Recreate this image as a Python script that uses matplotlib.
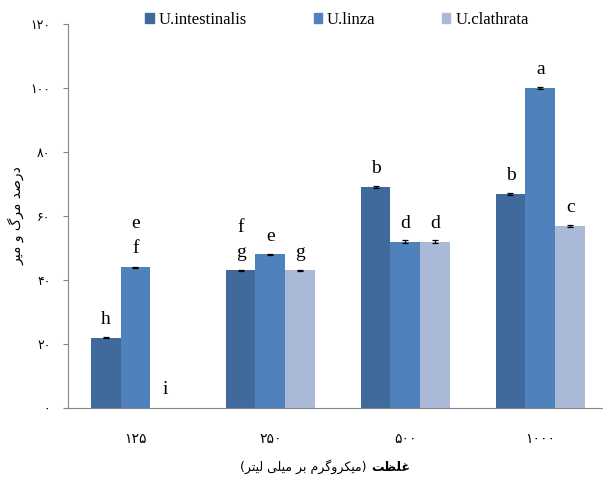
import numpy as np
import matplotlib
matplotlib.use('Agg')
import matplotlib.pyplot as plt
from matplotlib.patches import Patch

# data
groups = ['125', '250', '500', '1000']
series = ['U.intestinalis', 'U.linza', 'U.clathrata']
intestinalis = [22, 43, 69, 67]
linza = [44, 48, 52, 100]
clathrata = [0, 43, 52, 57]
err_intestinalis = [0.2, 0.2, 0.4, 0.3]
err_linza = [0.2, 0.1, 0.4, 0.4]
err_clathrata = [0, 0.2, 0.4, 0.3]
letters_intestinalis = ['h', 'f\ng', 'b', 'b']
letters_linza = ['e\nf', 'e', 'd', 'a']
letters_clathrata = ['i', 'g', 'd', 'c']
yticks = [0, 20, 40, 60, 80, 100, 120]

colors = ['#40699C', '#4F81BD', '#AAB9D8']
serif = 'Liberation Serif'
fa_digits = str.maketrans('0123456789', '۰۱۲۳۴۵۶۷۸۹')

# tiny persian shaper (matplotlib does no arabic shaping / bidi)
# forms: isolated, final, initial, medial
forms = {
    'د': ('\uFEA9', '\uFEAA', None, None),
    'ر': ('\uFEAD', '\uFEAE', None, None),
    'و': ('\uFEED', '\uFEEE', None, None),
    'ص': ('\uFEB9', '\uFEBA', '\uFEBB', '\uFEBC'),
    'م': ('\uFEE1', '\uFEE2', '\uFEE3', '\uFEE4'),
    'گ': ('\uFB92', '\uFB93', '\uFB94', '\uFB95'),
    'ی': ('\uFBFC', '\uFBFD', '\uFBFE', '\uFBFF'),
    'غ': ('\uFECD', '\uFECE', '\uFECF', '\uFED0'),
    'ل': ('\uFEDD', '\uFEDE', '\uFEDF', '\uFEE0'),
    'ظ': ('\uFEC5', '\uFEC6', '\uFEC7', '\uFEC8'),
    'ت': ('\uFE95', '\uFE96', '\uFE97', '\uFE98'),
    'ک': ('\uFB8E', '\uFB8F', '\uFB90', '\uFB91'),
    'ب': ('\uFE8F', '\uFE90', '\uFE91', '\uFE92'),
}


def shape(text):
    out = []
    for i, ch in enumerate(text):
        if ch not in forms:
            out.append(ch)
            continue
        prev = text[i - 1] if i > 0 else ''
        nxt = text[i + 1] if i + 1 < len(text) else ''
        jp = prev in forms and forms[prev][2] is not None
        jn = forms[ch][2] is not None and nxt in forms
        idx = 3 if (jp and jn) else 1 if jp else 2 if jn else 0
        out.append(forms[ch][idx])
    # visual order (right-to-left), mirror brackets
    return ''.join(out)[::-1].translate(str.maketrans('()', ')('))


fig = plt.figure(figsize=(6.03, 4.8), dpi=100)
ax = fig.add_axes([68 / 603, 72 / 480, 535 / 603, 384 / 480])

x = np.arange(len(groups))
w = 0.2222
vals = [intestinalis, linza, clathrata]
errs = [err_intestinalis, err_linza, err_clathrata]
lets = [letters_intestinalis, letters_linza, letters_clathrata]
for k in range(3):
    xs = x + (k - 1) * w
    e = [v if v > 0 else np.nan for v in errs[k]]
    ax.bar(xs, vals[k], w, color=colors[k], linewidth=0,
           yerr=e, error_kw=dict(ecolor='black', elinewidth=0.9,
                                 capsize=2.5, capthick=0.9))
    for xi, v, lab in zip(xs, vals[k], lets[k]):
        for j, line in enumerate(lab.split('\n')[::-1]):
            ax.annotate(line, (xi, v), xytext=(0, 10 + j * 18),
                        textcoords='offset points', ha='center',
                        va='baseline', fontsize=14, family=serif)

ax.set_xlim(-0.5, 3.463)
ax.set_ylim(0, 120)
ax.set_yticks(yticks)
ax.set_yticklabels([str(t).translate(fa_digits) for t in yticks],
                   fontsize=9, family='DejaVu Sans')
ax.set_xticks(x)
ax.set_xticklabels([g.translate(fa_digits) for g in groups],
                   fontsize=10, family='DejaVu Sans')
ax.tick_params(axis='x', length=0, pad=17)
ax.tick_params(axis='y', length=3.6, width=0.8, color='#868686', pad=9)
for s in ['top', 'right']:
    ax.spines[s].set_visible(False)
for s in ['left', 'bottom']:
    ax.spines[s].set_color('#868686')
    ax.spines[s].set_linewidth(0.8)

handles = [Patch(color=c) for c in colors]
fig.legend(handles, series, loc='center', bbox_to_anchor=(337 / 603, 0.958),
           ncol=3, frameon=False, prop=dict(family=serif, size=12),
           handlelength=0.5, handleheight=0.5, handletextpad=0.3,
           columnspacing=4.0)

# axis titles
fig.text(16 / 603, 0.55, shape('درصد مرگ و میر'), rotation=90,
         ha='center', va='center', fontsize=10, family='DejaVu Sans')
bold = fig.text(410 / 603, 0.027, shape('غلظت'), ha='right', va='center',
                fontsize=9, fontweight='bold', family='DejaVu Sans')
bb = bold.get_window_extent(renderer=fig.canvas.get_renderer())
fig.text((bb.x0 - 4) / 603, 0.027, shape('(میکروگرم بر میلی لیتر)'),
         ha='right', va='center', fontsize=9, family='DejaVu Sans')

fig.savefig('out.png', dpi=100)
